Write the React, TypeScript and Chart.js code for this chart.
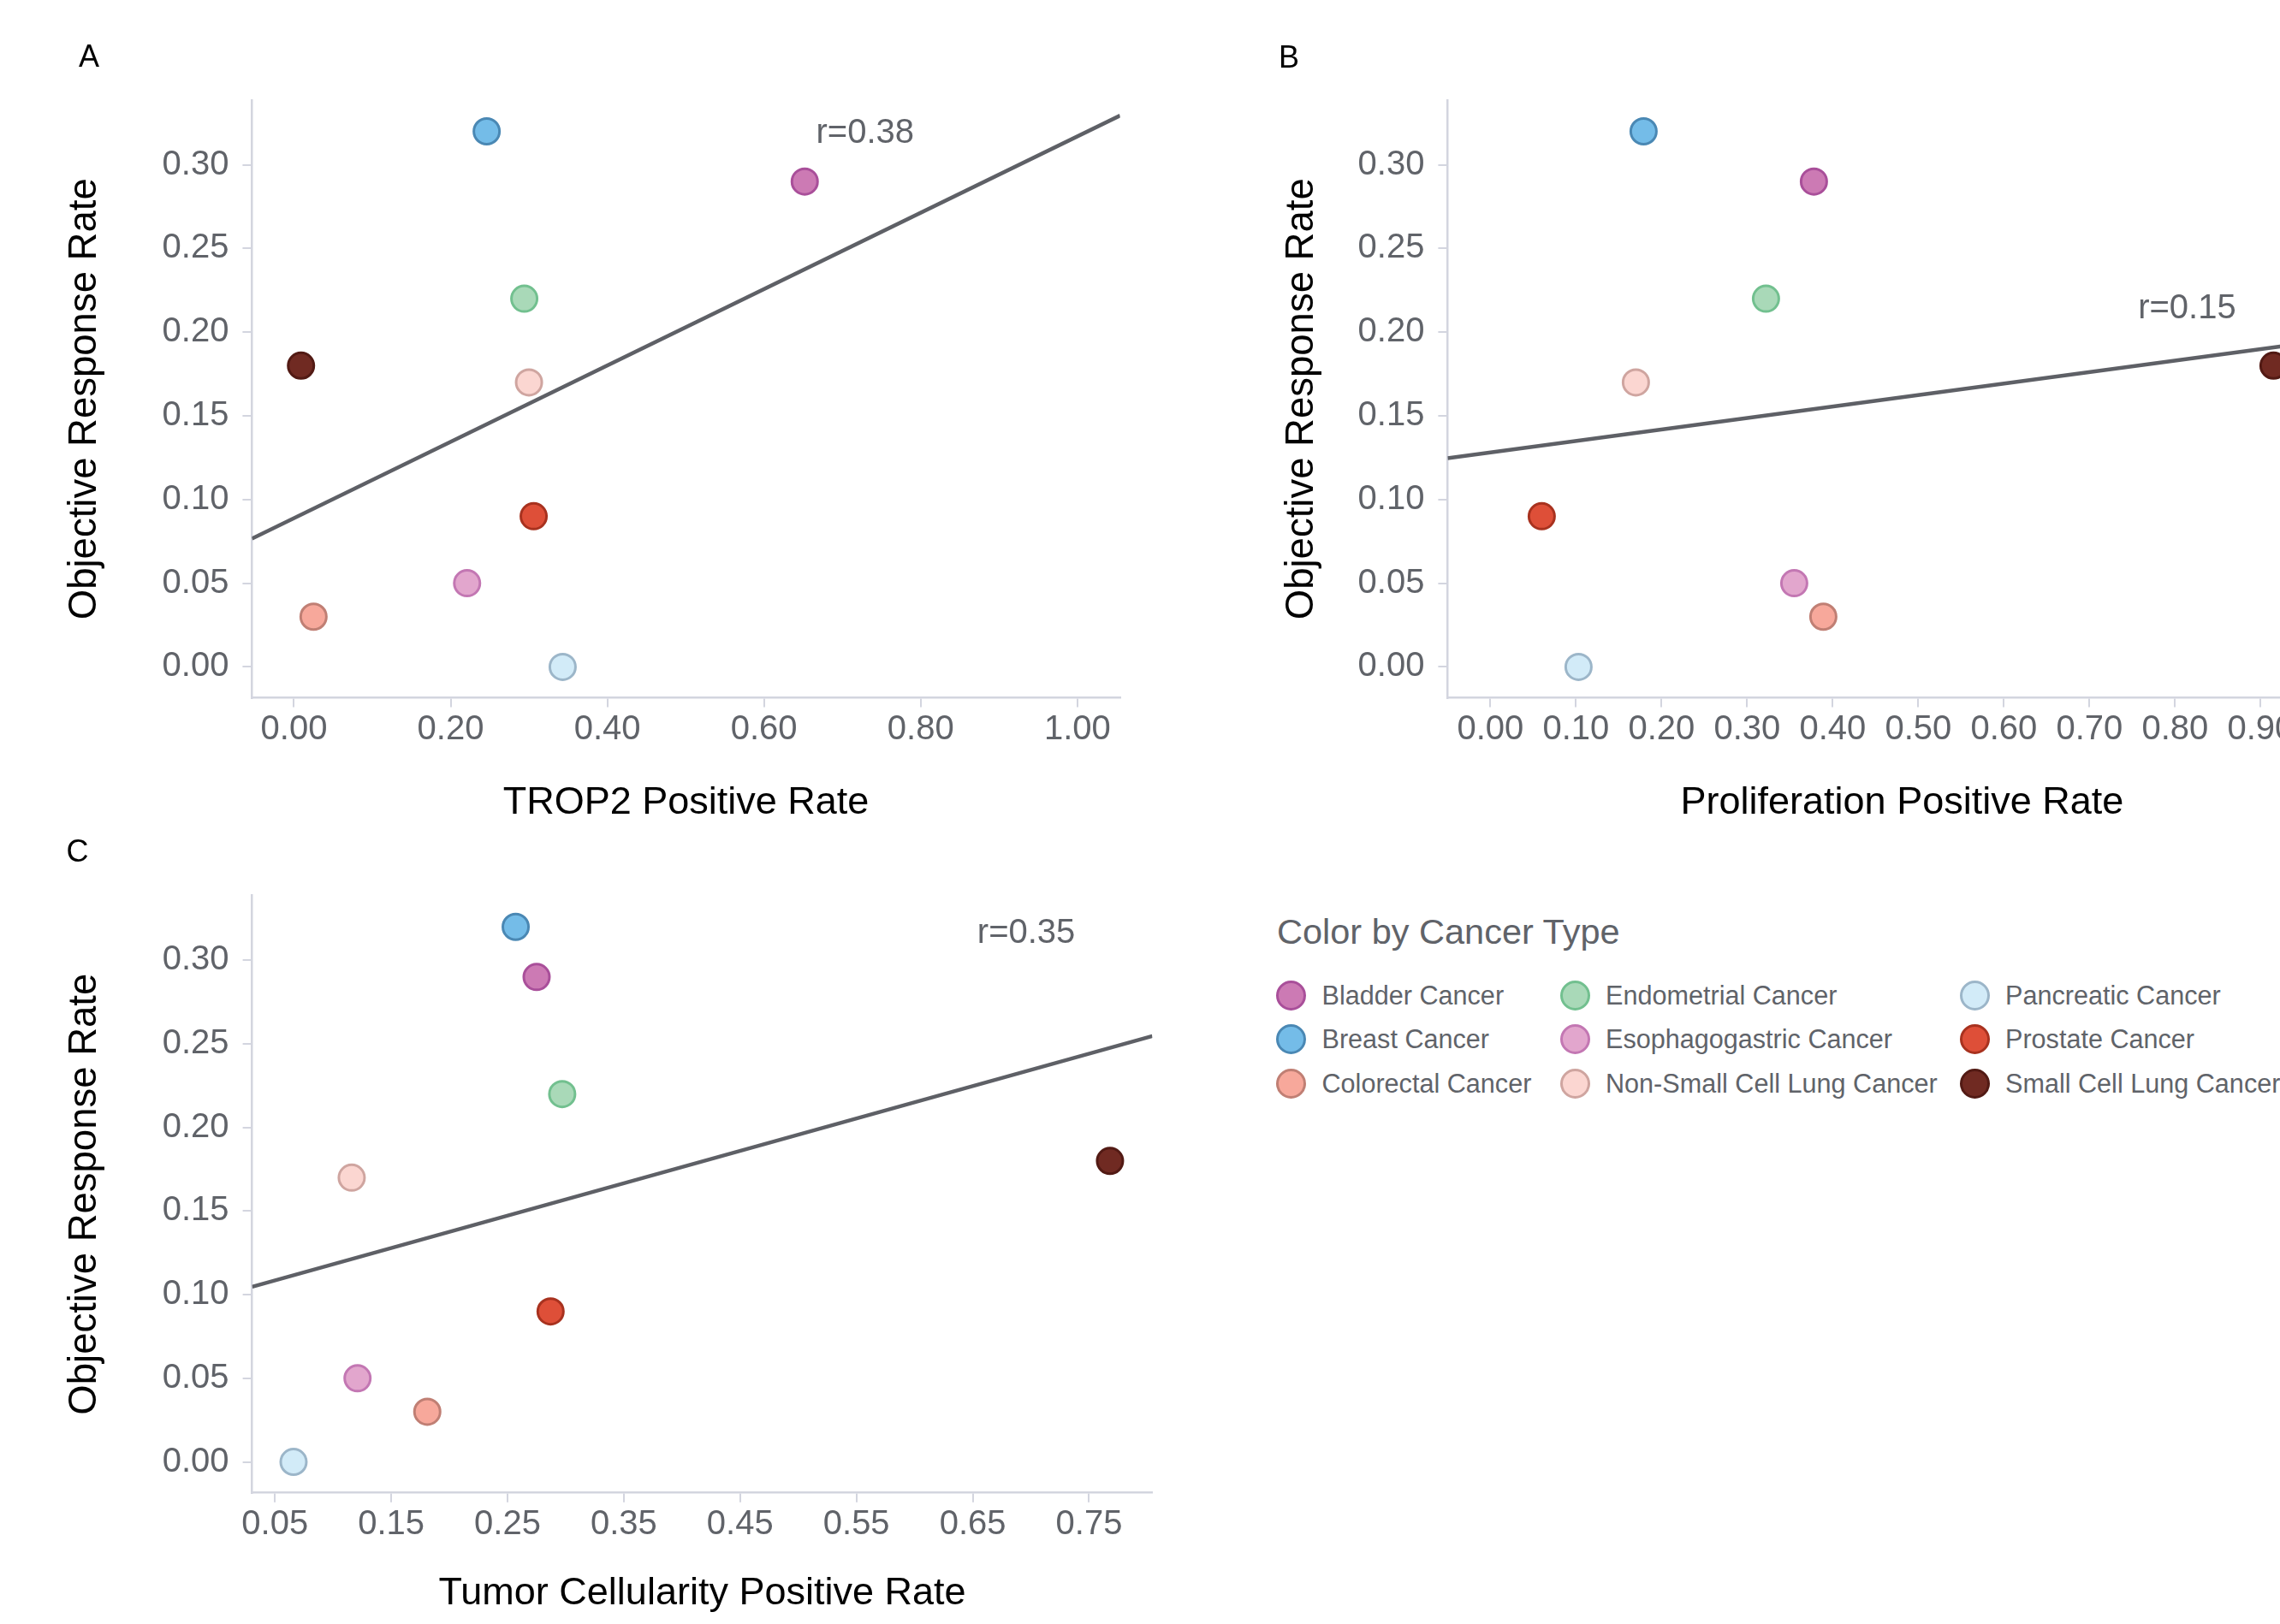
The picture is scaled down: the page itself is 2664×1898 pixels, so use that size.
import React, { useEffect, useRef } from 'react';
import { Chart, registerables } from 'chart.js';

Chart.register(...registerables);

const FONT = '"Liberation Sans", Arial, Helvetica, sans-serif';

// ---------------- data ----------------
const cancerTypes = [
  'Bladder Cancer',
  'Breast Cancer',
  'Colorectal Cancer',
  'Endometrial Cancer',
  'Esophagogastric Cancer',
  'Non-Small Cell Lung Cancer',
  'Pancreatic Cancer',
  'Prostate Cancer',
  'Small Cell Lung Cancer',
];
const fillColors = ['#cc7ab4', '#74bce8', '#f7a89b', '#a9d9b8', '#e2a6cd', '#fbd6d1', '#d2ebf8', '#de4f38', '#702a22'];
const borderColors = ['#a94f9a', '#4a88b4', '#c07f74', '#72c08f', '#c377b3', '#cfa5a0', '#9cb6c9', '#a8321f', '#521a14'];

const objectiveResponseRate = [0.29, 0.32, 0.03, 0.22, 0.05, 0.17, 0.0, 0.09, 0.18];
const trop2PositiveRate = [0.652, 0.246, 0.025, 0.294, 0.221, 0.3, 0.343, 0.306, 0.009];
const proliferationPositiveRate = [0.378, 0.179, 0.389, 0.322, 0.355, 0.17, 0.103, 0.06, 0.915];
const tumorCellularityPositiveRate = [0.275, 0.257, 0.181, 0.297, 0.121, 0.116, 0.066, 0.287, 0.768];

const yTickValues = [0, 0.05, 0.1, 0.15, 0.2, 0.25, 0.3];
const xTicksA = [0, 0.2, 0.4, 0.6, 0.8, 1.0];
const xTicksB = [0, 0.1, 0.2, 0.3, 0.4, 0.5, 0.6, 0.7, 0.8, 0.9];
const xTicksC = [0.05, 0.15, 0.25, 0.35, 0.45, 0.55, 0.65, 0.75];

// fitted regression line end points
const fitAx = [-0.0536, 1.0545];
const fitAy = [0.0766, 0.3294];
const fitBx = [-0.05, 1.012];
const fitBy = [0.1247, 0.1976];
const fitCx = [0.0304, 0.8044];
const fitCy = [0.1047, 0.2547];

const rTexts = ['r=0.38', 'r=0.15', 'r=0.35'];
const rAnchorX = [0.729, 0.814, 0.696];
const rAnchorY = [0.3187, 0.214, 0.316];

// ---------------- styles ----------------
const AXIS_COLOR = '#d3d5df';
const TICK_COLOR = '#606369';
const LINE_COLOR = '#5e6066';

type PanelProps = {
  left: number;
  top: number;
  w: number;
  h: number;
  pad: { left: number; top: number; right: number; bottom: number };
  yAxisWidth: number;
  xAxisHeight: number;
  xs: number[];
  xMin: number;
  xMax: number;
  xTicks: number[];
  xTitle: string;
  fitX: number[];
  fitY: number[];
  rText: string;
  rX: number;
  rY: number;
};

function Panel(p: PanelProps) {
  const ref = useRef<HTMLCanvasElement>(null);
  useEffect(() => {
    const canvas = ref.current;
    if (!canvas) return;
    const pointSets = cancerTypes.map((name, i) => ({
      type: 'scatter' as const,
      label: name,
      data: [{ x: p.xs[i], y: objectiveResponseRate[i] }],
      backgroundColor: fillColors[i],
      borderColor: borderColors[i],
      borderWidth: 3,
      pointRadius: 15,
      pointHoverRadius: 15,
      order: 1,
    }));
    const lineSet = {
      type: 'line' as const,
      label: 'fit',
      data: p.fitX.map((x, i) => ({ x, y: p.fitY[i] })),
      borderColor: LINE_COLOR,
      borderWidth: 4.5,
      pointRadius: 0,
      fill: false,
      showLine: true,
      order: 10,
    };
    const rLabel = {
      id: 'rLabel',
      afterDatasetsDraw(chart: any) {
        const ctx = chart.ctx;
        ctx.save();
        ctx.font = `40px ${FONT}`;
        ctx.fillStyle = TICK_COLOR;
        ctx.textAlign = 'center';
        ctx.textBaseline = 'middle';
        ctx.fillText(p.rText, chart.scales.x.getPixelForValue(p.rX), chart.scales.y.getPixelForValue(p.rY));
        ctx.restore();
      },
    };
    const chart = new Chart(canvas, {
      type: 'scatter',
      data: { datasets: [...pointSets, lineSet] as any },
      options: {
        animation: false,
        responsive: false,
        maintainAspectRatio: false,
        devicePixelRatio: 1,
        layout: { padding: p.pad },
        plugins: { legend: { display: false }, tooltip: { enabled: false } },
        scales: {
          x: {
            type: 'linear',
            min: p.xMin,
            max: p.xMax,
            afterBuildTicks: (s: any) => {
              s.ticks = p.xTicks.map((v) => ({ value: v }));
            },
            afterFit: (s: any) => {
              s.height = p.xAxisHeight;
            },
            grid: {
              display: true,
              drawOnChartArea: false,
              drawTicks: true,
              tickLength: 11,
              tickWidth: 2,
              lineWidth: 2,
              tickColor: AXIS_COLOR,
              color: AXIS_COLOR,
            },
            border: { display: true, color: AXIS_COLOR, width: 2.5 },
            ticks: {
              font: { size: 40, lineHeight: 1, family: FONT },
              color: TICK_COLOR,
              padding: 6,
              maxRotation: 0,
              autoSkip: false,
              callback: (v: any) => Number(v).toFixed(2),
            },
            title: {
              display: true,
              text: p.xTitle,
              font: { size: 45, family: FONT },
              color: '#000000',
              padding: 0,
            },
          },
          y: {
            type: 'linear',
            min: -0.0185,
            max: 0.3387,
            afterBuildTicks: (s: any) => {
              s.ticks = yTickValues.map((v) => ({ value: v }));
            },
            afterFit: (s: any) => {
              s.width = p.yAxisWidth;
            },
            grid: {
              display: true,
              drawOnChartArea: false,
              drawTicks: true,
              tickLength: 11,
              tickWidth: 2,
              lineWidth: 2,
              tickColor: AXIS_COLOR,
              color: AXIS_COLOR,
            },
            border: { display: true, color: AXIS_COLOR, width: 2.5 },
            ticks: {
              font: { size: 40, lineHeight: 1, family: FONT },
              color: TICK_COLOR,
              padding: 16,
              autoSkip: false,
              callback: (v: any) => Number(v).toFixed(2),
            },
            title: {
              display: true,
              text: 'Objective Response Rate',
              font: { size: 45.5, family: FONT },
              color: '#000000',
              padding: 0,
            },
          },
        },
      } as any,
      plugins: [rLabel],
    });
    return () => chart.destroy();
  }, []);
  return (
    <canvas
      ref={ref}
      width={p.w}
      height={p.h}
      style={{ position: 'absolute', left: p.left, top: p.top, width: p.w, height: p.h }}
    />
  );
}

const legendColX = [1508.5, 1840, 2307];
const legendRowY = [1163, 1214.5, 1266];

function Legend() {
  return (
    <>
      <div
        style={{
          position: 'absolute',
          left: 1492,
          top: 1068,
          fontFamily: FONT,
          fontSize: 41.5,
          lineHeight: '41px',
          color: TICK_COLOR,
          whiteSpace: 'nowrap',
        }}
      >
        Color by Cancer Type
      </div>
      {cancerTypes.map((name, i) => {
        const col = Math.floor(i / 3);
        const row = i % 3;
        return (
          <div
            key={name}
            style={{
              position: 'absolute',
              left: legendColX[col] - 17.5,
              top: legendRowY[row] - 17.5,
              height: 35,
              display: 'flex',
              alignItems: 'center',
              whiteSpace: 'nowrap',
            }}
          >
            <span
              style={{
                display: 'inline-block',
                width: 35,
                height: 35,
                boxSizing: 'border-box',
                borderRadius: '50%',
                background: fillColors[i],
                border: `3px solid ${borderColors[i]}`,
              }}
            />
            <span
              style={{
                marginLeft: 18.5,
                fontFamily: FONT,
                fontSize: 30.6,
                lineHeight: '35px',
                color: TICK_COLOR,
              }}
            >
              {name}
            </span>
          </div>
        );
      })}
    </>
  );
}

function PanelLetter({ text, x, y }: { text: string; x: number; y: number }) {
  return (
    <div
      style={{
        position: 'absolute',
        left: x,
        top: y,
        transform: 'translate(-50%, -50%)',
        fontFamily: FONT,
        fontSize: 36,
        lineHeight: '36px',
        color: '#000',
      }}
    >
      {text}
    </div>
  );
}

export default function App() {
  return (
    <div
      style={{
        position: 'fixed',
        left: 0,
        top: 0,
        width: 2664,
        height: 1898,
        overflow: 'hidden',
        background: '#ffffff',
      }}
    >
      <Panel
        left={0}
        top={0}
        w={1400}
        h={980}
        pad={{ left: 72, top: 116.9, right: 91.3, bottom: 14.4 }}
        yAxisWidth={222.4}
        xAxisHeight={150}
        xs={trop2PositiveRate}
        xMin={-0.0536}
        xMax={1.0545}
        xTicks={xTicksA}
        xTitle="TROP2 Positive Rate"
        fitX={fitAx}
        fitY={fitAy}
        rText={rTexts[0]}
        rX={rAnchorX[0]}
        rY={rAnchorY[0]}
      />
      <Panel
        left={1397}
        top={0}
        w={1400}
        h={980}
        pad={{ left: 97.4, top: 116.9, right: 43.6, bottom: 14.4 }}
        yAxisWidth={197}
        xAxisHeight={150}
        xs={proliferationPositiveRate}
        xMin={-0.05}
        xMax={1.012}
        xTicks={xTicksB}
        xTitle="Proliferation Positive Rate"
        fitX={fitBx}
        fitY={fitBy}
        rText={rTexts[1]}
        rX={rAnchorX[1]}
        rY={rAnchorY[1]}
      />
      <Panel
        left={0}
        top={960}
        w={1400}
        h={938}
        pad={{ left: 72, top: 86.7, right: 53.6, bottom: 8 }}
        yAxisWidth={222.6}
        xAxisHeight={145.3}
        xs={tumorCellularityPositiveRate}
        xMin={0.0304}
        xMax={0.8044}
        xTicks={xTicksC}
        xTitle="Tumor Cellularity Positive Rate"
        fitX={fitCx}
        fitY={fitCy}
        rText={rTexts[2]}
        rX={rAnchorX[2]}
        rY={rAnchorY[2]}
      />
      <PanelLetter text="A" x={104} y={66} />
      <PanelLetter text="B" x={1506} y={67} />
      <PanelLetter text="C" x={90.6} y={994.5} />
      <Legend />
    </div>
  );
}
